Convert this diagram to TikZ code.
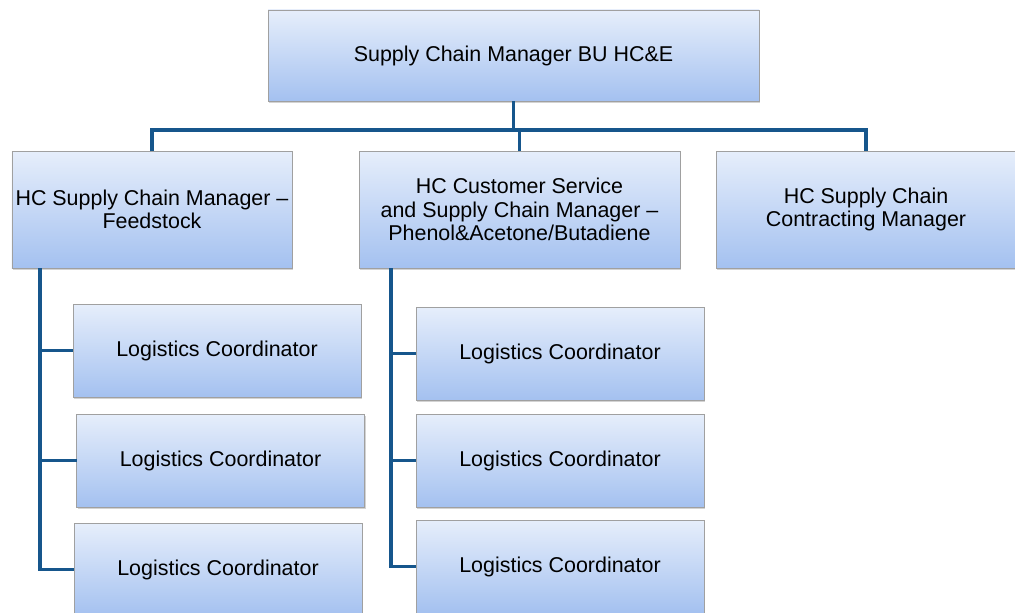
\documentclass[tikz,border=0pt]{standalone}
\usepackage{fontspec}
\setmainfont{Liberation Sans}
\usepackage{xcolor}
\usetikzlibrary{positioning,shadows}
\definecolor{trait}{RGB}{22,86,140}
\definecolor{haut}{RGB}{230,238,251}
\definecolor{bas}{RGB}{164,193,240}
\definecolor{bord}{RGB}{160,160,160}

\begin{document}
\begin{tikzpicture}[font=\fontsize{12.2}{13.4}\selectfont,
  poste/.style={draw=bord, line width=0.5pt, top color=haut, bottom color=bas, align=center, inner sep=0pt, outer sep=0pt, minimum height=2.34cm, drop shadow={shadow xshift=0.7pt, shadow yshift=-0.9pt, opacity=0.35}},
  logi/.style={poste, minimum width=5.76cm, minimum height=1.86cm},
  lien/.style={draw=trait, line width=2pt}]
\useasboundingbox (0,0) rectangle (20.3,-12.24);
\clip (0,0) rectangle (20.3,-12.24);
% direction et adjoints
\node[poste, minimum width=9.82cm, minimum height=1.82cm] (top) at (10.27,-1.11) {Supply Chain Manager BU HC\&E};
\node[poste, minimum width=5.6cm] (fs) at (3.04,-4.19) {HC Supply Chain Manager --\\Feedstock};
\node[poste, minimum width=6.42cm, right=1.34cm of fs] (cs) {HC Customer Service\\and Supply Chain Manager --\\Phenol\&Acetone/Butadiene};
\node[poste, minimum width=6cm, right=0.72cm of cs] (ct) {HC Supply Chain\\Contracting Manager};
% coordinateurs
\node[logi, below right=0.72cm and 1.22cm of fs.south west] (la) {Logistics Coordinator};
\node[logi, below=0.34cm of la, xshift=0.07cm] (lb) {Logistics Coordinator};
\node[logi, below=0.32cm of lb, xshift=-0.05cm] (lc) {Logistics Coordinator};
\node[logi, below right=0.78cm and 1.14cm of cs.south west] (ra) {Logistics Coordinator};
\node[logi, below=0.28cm of ra] (rb) {Logistics Coordinator};
\node[logi, below=0.26cm of rb] (rc) {Logistics Coordinator};
% liaisons
\coordinate (bus) at (10.27,-2.6);
\draw[lien] (top.south) -- (bus);
\draw[lien] (fs.north) |- (bus); \draw[lien] (cs.north) |- (bus); \draw[lien] (ct.north) |- (bus);
\draw[lien] ([xshift=0.56cm]fs.south west) |- (la.west);
\draw[lien] ([xshift=0.56cm]fs.south west) |- (lb.west);
\draw[lien] ([xshift=0.56cm]fs.south west) |- (lc.west);
\draw[lien] ([xshift=0.64cm]cs.south west) |- (ra.west);
\draw[lien] ([xshift=0.64cm]cs.south west) |- (rb.west);
\draw[lien] ([xshift=0.64cm]cs.south west) |- (rc.west);
\end{tikzpicture}
\end{document}
